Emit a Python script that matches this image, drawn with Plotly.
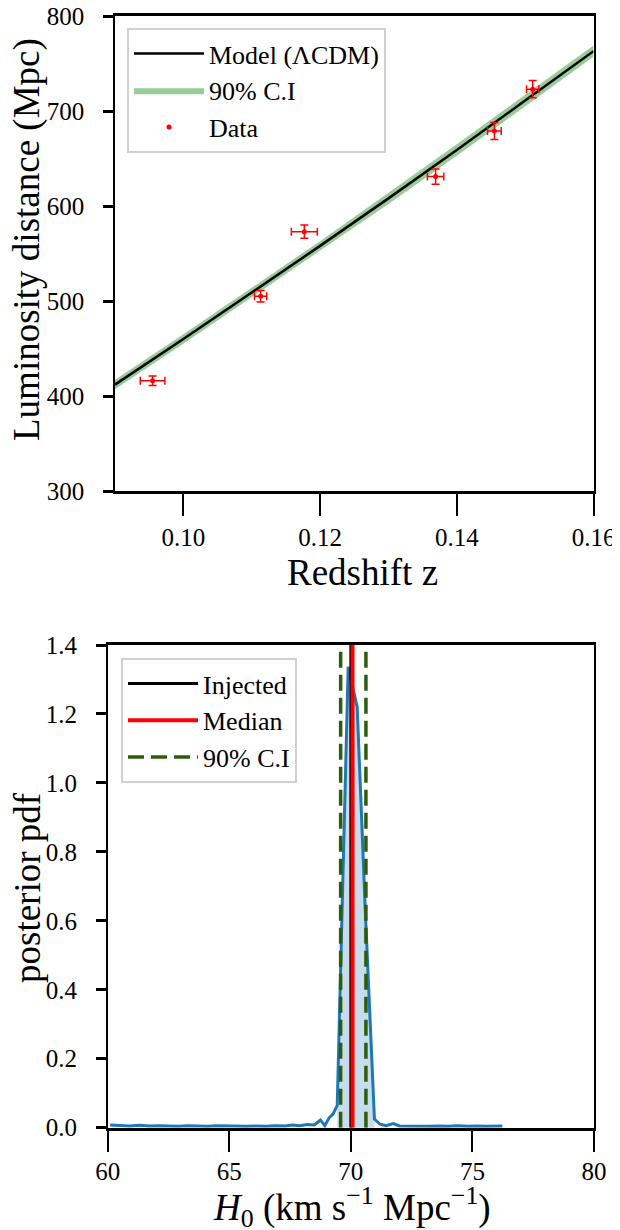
import plotly.graph_objects as go

# ---------------- top panel data ----------------
z_model = [0.09, 0.10, 0.11, 0.12, 0.13, 0.14, 0.15, 0.16]
dl_model = [412, 460, 509, 558, 608, 659, 711, 763]
dl_low = [407, 455, 504, 553, 602, 653, 705, 757]
dl_high = [417, 465, 514, 563, 614, 665, 717, 769]

z_data = [0.0955, 0.1113, 0.1177, 0.1369, 0.1455, 0.1511]
dl_data = [416, 505, 573, 631, 679, 723]
z_err = [0.0018, 0.0009, 0.0019, 0.0012, 0.0010, 0.0009]
dl_err = [5, 6, 7, 8, 9, 9]

# ---------------- bottom panel data ----------------
h0_grid = [60.1, 60.5, 60.9, 61.3, 61.7, 62.1, 62.5, 62.9, 63.3, 63.7, 64.1, 64.5,
           64.9, 65.3, 65.7, 66.1, 66.5, 66.9, 67.3, 67.6, 67.9, 68.2, 68.5, 68.75,
           68.93, 69.1, 69.27, 69.44, 69.89, 70.26, 70.6, 70.97, 71.2, 71.45, 71.74,
           72.0, 72.4, 72.8, 73.2, 73.6, 74.0, 74.4, 74.8, 75.2, 75.6, 76.23]
pdf_vals = [0.008, 0.006, 0.005, 0.007, 0.005, 0.006, 0.005, 0.004, 0.006, 0.005, 0.004, 0.006,
            0.005, 0.006, 0.004, 0.005, 0.004, 0.006, 0.005, 0.008, 0.006, 0.009, 0.008, 0.022,
            0.006, 0.028, 0.040, 0.065, 1.337, 1.22, 0.62, 0.025, 0.010, 0.006, 0.012,
            0.005, 0.004, 0.005, 0.004, 0.005, 0.004, 0.006, 0.004, 0.005, 0.004, 0.005]
fill_x = [69.44, 69.89, 70.26, 70.6, 70.97]
fill_y = [0.065, 1.337, 1.22, 0.62, 0.025]

h0_injected = 70.0
h0_median = 70.07
h0_ci = [69.58, 70.62]
ylim_pdf = [0, 1.4]

FONT = "Liberation Serif"
fig = go.Figure()

# CI band
fig.add_trace(go.Scatter(x=z_model, y=dl_low, mode="lines", line=dict(width=0),
                         showlegend=False, hoverinfo="skip", xaxis="x", yaxis="y"))
fig.add_trace(go.Scatter(x=z_model, y=dl_high, mode="lines", line=dict(width=0),
                         fill="tonexty", fillcolor="rgba(0,128,0,0.4)", name="90% C.I",
                         legendrank=2, xaxis="x", yaxis="y"))
fig.add_trace(go.Scatter(x=z_model, y=dl_model, mode="lines", line=dict(color="black", width=2.5),
                         name="Model (ΛCDM)", legendrank=1, xaxis="x", yaxis="y"))
fig.add_trace(go.Scatter(x=z_data, y=dl_data, mode="markers", name="Data", legendrank=3,
                         marker=dict(color="red", size=5),
                         error_x=dict(type="data", array=z_err, color="red", thickness=1.5, width=4),
                         error_y=dict(type="data", array=dl_err, color="red", thickness=1.5, width=4),
                         xaxis="x", yaxis="y"))

# Bottom panel
fig.add_trace(go.Scatter(x=fill_x, y=fill_y, mode="lines", line=dict(width=0), fill="tozeroy",
                         fillcolor="rgba(31,119,180,0.25)", showlegend=False, xaxis="x2", yaxis="y2"))
fig.add_trace(go.Scatter(x=h0_grid, y=pdf_vals, mode="lines", line=dict(color="#1f77b4", width=3),
                         showlegend=False, xaxis="x2", yaxis="y2"))
fig.add_trace(go.Scatter(x=[h0_injected, h0_injected], y=ylim_pdf, mode="lines",
                         line=dict(color="black", width=3), name="Injected", legend="legend2",
                         legendrank=1, xaxis="x2", yaxis="y2"))
fig.add_trace(go.Scatter(x=[h0_median, h0_median], y=ylim_pdf, mode="lines",
                         line=dict(color="red", width=4), name="Median", legend="legend2",
                         legendrank=2, xaxis="x2", yaxis="y2"))
for i, v in enumerate(h0_ci):
    fig.add_trace(go.Scatter(x=[v, v], y=ylim_pdf, mode="lines",
                             line=dict(color="#2b5d0c", width=3.5, dash="16px,7px"), name="90% C.I",
                             legend="legend2", legendrank=3, showlegend=(i == 0),
                             xaxis="x2", yaxis="y2"))

# page has an 8px body margin: figure placed at (8, 8) in the 620x1230 window
OFF = 8
W, H = 620 - OFF, 1230 - OFF
def px(x):
    return (x - OFF) / W
def py(y):
    return 1 - (y - OFF) / H

axis_common = dict(showline=True, linecolor="black", mirror=True, ticks="outside",
                   tickcolor="black", showgrid=False, zeroline=False, automargin=False,
                   ticklabeloverflow="allow",
                   tickfont=dict(family=FONT, size=25, color="black"))

legend_common = dict(xanchor="left", yanchor="top", bgcolor="white", bordercolor="#d0d0d0",
                     borderwidth=2, font=dict(family=FONT, size=26), traceorder="normal",
                     itemwidth=70)

fig.update_layout(
    width=W, height=H, margin=dict(l=0, r=0, t=0, b=0),
    paper_bgcolor="white", plot_bgcolor="white",
    font=dict(family=FONT, color="black"),
    xaxis=dict(domain=[px(115), px(593.5)], range=[0.09, 0.16], tickvals=[0.10, 0.12, 0.14, 0.16],
               tickformat=".2f", linewidth=2.5, tickwidth=1.5, ticklen=22, anchor="y",
               ticklabelstandoff=0, **axis_common),
    yaxis=dict(domain=[py(491), py(16)], range=[300, 800], dtick=100, linewidth=1.5,
               tickwidth=2.5, ticklen=10, anchor="x", ticklabelstandoff=14, **axis_common),
    xaxis2=dict(domain=[px(107.7), px(594)], range=[60, 80], dtick=5, linewidth=2.5, tickwidth=1.5,
                ticklen=22, anchor="y2", ticklabelstandoff=-2, **axis_common),
    yaxis2=dict(domain=[py(1127.7), py(645)], range=ylim_pdf, dtick=0.2, tickformat=".1f",
                linewidth=1.5, tickwidth=2.5, ticklen=10, anchor="x2", ticklabelstandoff=14,
                **axis_common),
    legend=dict(x=px(127), y=py(28), **legend_common),
    legend2=dict(x=px(121), y=py(658), **legend_common),
    annotations=[
        dict(text="Redshift z", x=px(362), y=py(572), xref="paper", yref="paper",
             xanchor="center", yanchor="middle",
             showarrow=False, font=dict(family=FONT, size=37)),
        dict(text="Luminosity distance (Mpc)", x=px(27), y=py(240), xref="paper", yref="paper",
             xanchor="center", yanchor="middle",
             showarrow=False, textangle=-90, font=dict(family=FONT, size=37)),
        dict(text="posterior pdf", x=px(27), y=py(888), xref="paper", yref="paper",
             xanchor="center", yanchor="middle",
             showarrow=False, textangle=-90, font=dict(family=FONT, size=37)),
        dict(text="<i>H</i><sub>0</sub> (km s<sup>−1</sup> Mpc<sup>−1</sup>)", x=px(352), y=py(1207),
             xref="paper", yref="paper", xanchor="center", yanchor="middle",
             showarrow=False, font=dict(family=FONT, size=37)),
    ],
)

fig.write_html("out.html")
